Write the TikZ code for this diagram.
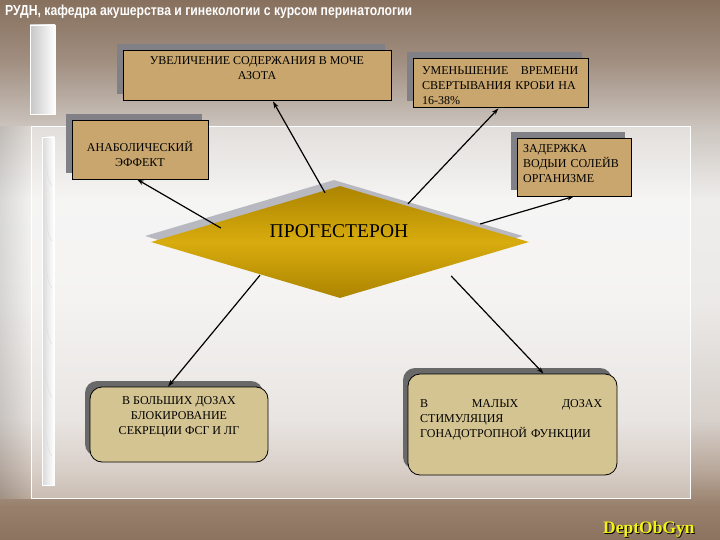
\documentclass[tikz,border=0pt]{standalone}
\usepackage{fontspec}
\usepackage{graphicx}
\setmainfont{Liberation Serif}
\newfontfamily\titlefont{Liberation Sans}
\usetikzlibrary{shapes.geometric,shadows,arrows.meta,calc}
\definecolor{boxtan}{RGB}{201,166,110}
\definecolor{boxbeige}{RGB}{212,196,146}
\definecolor{boxshade}{RGB}{128,128,134}
\definecolor{roundshade}{RGB}{105,105,105}
\definecolor{progdark}{RGB}{172,132,0}
\definecolor{progbright}{RGB}{216,172,14}
\definecolor{progshade}{RGB}{184,184,192}
\definecolor{deptyellow}{RGB}{242,242,20}
\pgfdeclareverticalshading{slidebg}{100bp}{
	color(0bp)=(rgb,255:red,140;green,115;blue,95);
	color(25bp)=(rgb,255:red,140;green,115;blue,95);
	color(28.2bp)=(rgb,255:red,152;green,128;blue,108);
	color(31.5bp)=(rgb,255:red,185;green,168;blue,155);
	color(36.1bp)=(rgb,255:red,215;green,208;blue,203);
	color(47.2bp)=(rgb,255:red,236;green,234;blue,232);
	color(56.5bp)=(rgb,255:red,238;green,237;blue,236);
	color(63bp)=(rgb,255:red,205;green,198;blue,192);
	color(69.4bp)=(rgb,255:red,160;green,142;blue,128);
	color(75bp)=(rgb,255:red,135;green,112;blue,93);
	color(100bp)=(rgb,255:red,135;green,112;blue,93)}
\tikzset{
	tanbox/.style={draw=black, line width=0.7pt, fill=boxtan, inner sep=0pt,
		general shadow={shadow xshift=-6pt, shadow yshift=6pt, fill=boxshade}},
	roundbox/.style={draw=black, line width=0.8pt, fill=boxbeige, inner sep=0pt, rounded corners=12pt,
		general shadow={shadow xshift=-5pt, shadow yshift=6pt, fill=roundshade}},
	prog/.style={shape=diamond, draw=none, inner sep=0pt,
		top color=progdark, bottom color=progdark, middle color=progbright,
		general shadow={shadow xshift=-6pt, shadow yshift=6pt, fill=progshade}},
	boxtext/.style={inner sep=0pt, font=\fontsize{12}{15}\selectfont},
	arr/.style={-{Stealth[length=7pt,width=4.5pt]}, line width=1.2pt}
}
\begin{document}
\begin{tikzpicture}[x=1pt, y=-1pt]
	\useasboundingbox (0,0) rectangle (720,540);
	\shade[shading=slidebg] (0,0) rectangle (720,540);
	\shade[left color=black!35, right color=white, opacity=0.3] (0,127) rectangle (31,498);
	\draw[white, line width=1pt, fill=white, fill opacity=0.45] (31,127) rectangle (690,498);
	\shade[left color=gray!45, right color=white, draw=white] (30,25) rectangle (55,114);
	\shade[left color=gray!30, right color=white, draw=white] (42,137) rectangle (54,485);
	\foreach \y in {160,215,262,318,371,430} {
		\draw[gray!25, line width=0.5pt] (44,\y) .. controls (48,\y+8) and (46,\y+18) .. (52,\y+26);
	}
	\node[anchor=base west, inner sep=0pt, text=white] (title) at (5,16)
		{\resizebox{407pt}{10.5pt}{\titlefont\bfseries РУДН, кафедра акушерства и гинекологии с курсом перинатологии}};

	\node[tanbox, minimum width=268pt, minimum height=50pt] (azot) at (257,75) {};
	\node[tanbox, minimum width=175pt, minimum height=49pt] (svert) at (500.5,82.5) {};
	\node[tanbox, minimum width=136pt, minimum height=59pt] (anab) at (140,149.5) {};
	\node[tanbox, minimum width=114pt, minimum height=58pt] (voda) at (574,167) {};
	\node[roundbox, minimum width=178pt, minimum height=75pt] (blok) at (179,424.5) {};
	\node[roundbox, minimum width=209pt, minimum height=101pt] (stim) at (512.5,424.5) {};
	\node[prog, minimum width=378pt, minimum height=112pt] (prog) at (340,242) {};

	\node[boxtext, align=center] (azottxt) at (257,68.5) {УВЕЛИЧЕНИЕ СОДЕРЖАНИЯ В МОЧЕ\\АЗОТА};
	\node[boxtext, anchor=west, text width=156pt, align=left] (sverttxt) at (422,86)
		{\makebox[156pt]{УМЕНЬШЕНИЕ\hfill ВРЕМЕНИ}\\СВЕРТЫВАНИЯ КРОБИ НА\\16-38\%};
	\node[boxtext, align=center] (anabtxt) at (140,153.5) {АНАБОЛИЧЕСКИЙ\\ЭФФЕКТ};
	\node[boxtext, anchor=west, text width=108pt, align=left] (vodatxt) at (523,164)
		{ЗАДЕРЖКА\\ВОДЫИ СОЛЕЙВ\\ОРГАНИЗМЕ};
	\node[boxtext, align=center] (bloktxt) at (179,417) {В БОЛЬШИХ ДОЗАХ\\БЛОКИРОВАНИЕ\\СЕКРЕЦИИ ФСГ И ЛГ};
	\node[boxtext, anchor=west, text width=182pt, align=left] (stimtxt) at (420,420)
		{\makebox[182pt]{В\hfill МАЛЫХ\hfill ДОЗАХ}\\СТИМУЛЯЦИЯ\\ГОНАДОТРОПНОЙ ФУНКЦИИ};
	\node[inner sep=0pt, font=\fontsize{19.5}{22}\selectfont] (progtxt) at (339,231) {ПРОГЕСТЕРОН};

	\draw[arr] ($(prog.north)+(-15,7)$) -- ($(azot.south)+(16,1)$);
	\draw[arr] ($(prog.west)+(70,-14)$) -- ($(anab.south)+(-3,0)$);
	\draw[arr] ($(prog.north)+(68,18)$) -- ($(svert.south)+(-2,1)$);
	\draw[arr] ($(prog.east)+(-49,-18)$) -- (voda.south);
	\draw[arr] ($(prog.south)+(-80,-23)$) -- ($(blok.north)+(-11,0)$);
	\draw[arr] ($(prog.east)+(-78,34)$) -- ($(stim.north)+(31,0)$);

	\node[anchor=base west, inner sep=0pt, text=black, font=\fontsize{17.5}{20}\selectfont\bfseries] (deptshade) at (604,534) {DeptObGyn};
	\node[anchor=base west, inner sep=0pt, text=deptyellow, font=\fontsize{17.5}{20}\selectfont\bfseries] (dept) at (603,533) {DeptObGyn};
\end{tikzpicture}
\end{document}
